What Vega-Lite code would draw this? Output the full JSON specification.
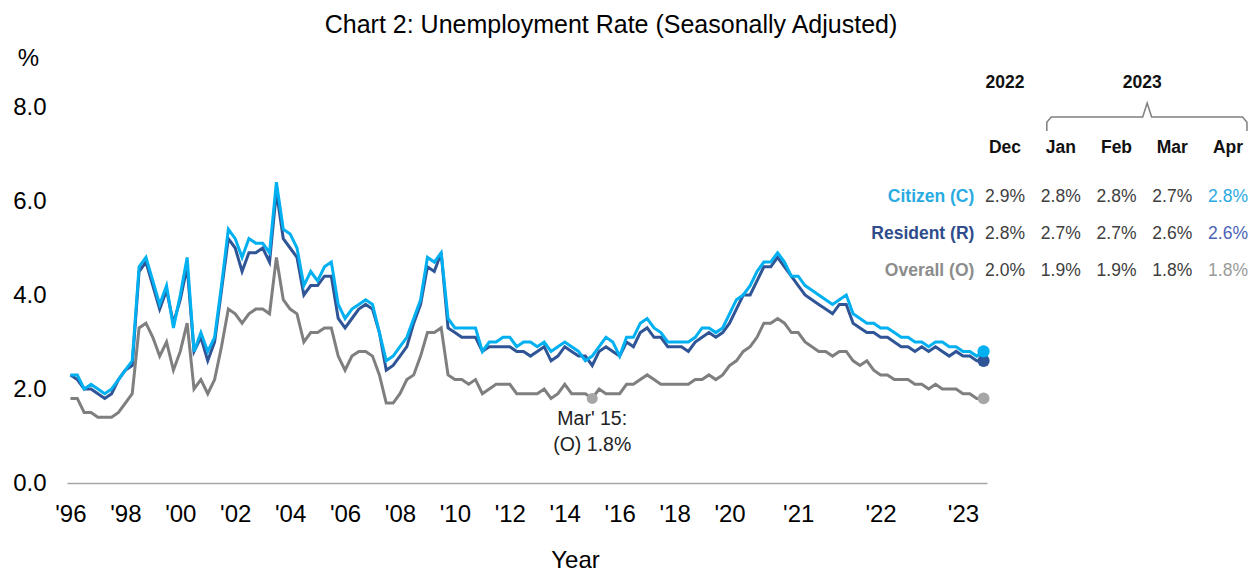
{
  "$schema": "https://vega.github.io/schema/vega-lite/v6.json",
  "width": 920,
  "height": 376,
  "autosize": {"type": "none"},
  "padding": {"left": 67, "top": 107, "right": 268, "bottom": 89},
  "background": "white",
  "config": {"view": {"stroke": null}, "font": "Liberation Sans", "axis": {"grid": false}},
  "title": {"text": "Chart 2: Unemployment Rate (Seasonally Adjusted)", "fontSize": 25, "fontWeight": "normal", "color": "#000000", "anchor": "middle", "dx": 84, "offset": 8},
  "datasets": {
    "ur": [
      {"p":"1996Q1","c":2.3,"r":2.3,"o":1.8},
      {"p":"1996Q2","c":2.3,"r":2.2,"o":1.8},
      {"p":"1996Q3","c":2.0,"r":2.0,"o":1.5},
      {"p":"1996Q4","c":2.1,"r":2.0,"o":1.5},
      {"p":"1997Q1","c":2.0,"r":1.9,"o":1.4},
      {"p":"1997Q2","c":1.9,"r":1.8,"o":1.4},
      {"p":"1997Q3","c":2.0,"r":1.9,"o":1.4},
      {"p":"1997Q4","c":2.2,"r":2.2,"o":1.5},
      {"p":"1998Q1","c":2.4,"r":2.4,"o":1.7},
      {"p":"1998Q2","c":2.6,"r":2.5,"o":1.9},
      {"p":"1998Q3","c":4.6,"r":4.5,"o":3.3},
      {"p":"1998Q4","c":4.8,"r":4.7,"o":3.4},
      {"p":"1999Q1","c":4.3,"r":4.2,"o":3.1},
      {"p":"1999Q2","c":3.8,"r":3.7,"o":2.7},
      {"p":"1999Q3","c":4.2,"r":4.1,"o":3.0},
      {"p":"1999Q4","c":3.3,"r":3.4,"o":2.4},
      {"p":"2000Q1","c":4.0,"r":3.9,"o":2.8},
      {"p":"2000Q2","c":4.8,"r":4.6,"o":3.4},
      {"p":"2000Q3","c":2.8,"r":2.8,"o":2.0},
      {"p":"2000Q4","c":3.2,"r":3.1,"o":2.2},
      {"p":"2001Q1","c":2.8,"r":2.6,"o":1.9},
      {"p":"2001Q2","c":3.1,"r":3.0,"o":2.2},
      {"p":"2001Q3","c":4.2,"r":4.1,"o":2.9},
      {"p":"2001Q4","c":5.4,"r":5.2,"o":3.7},
      {"p":"2002Q1","c":5.2,"r":5.0,"o":3.6},
      {"p":"2002Q2","c":4.8,"r":4.5,"o":3.4},
      {"p":"2002Q3","c":5.2,"r":4.9,"o":3.6},
      {"p":"2002Q4","c":5.1,"r":4.9,"o":3.7},
      {"p":"2003Q1","c":5.1,"r":5.0,"o":3.7},
      {"p":"2003Q2","c":4.9,"r":4.7,"o":3.6},
      {"p":"2003Q3","c":6.4,"r":6.2,"o":4.8},
      {"p":"2003Q4","c":5.4,"r":5.2,"o":3.9},
      {"p":"2004Q1","c":5.3,"r":5.0,"o":3.7},
      {"p":"2004Q2","c":5.0,"r":4.8,"o":3.6},
      {"p":"2004Q3","c":4.2,"r":4.0,"o":3.0},
      {"p":"2004Q4","c":4.5,"r":4.2,"o":3.2},
      {"p":"2005Q1","c":4.3,"r":4.2,"o":3.2},
      {"p":"2005Q2","c":4.6,"r":4.4,"o":3.3},
      {"p":"2005Q3","c":4.7,"r":4.4,"o":3.3},
      {"p":"2005Q4","c":3.8,"r":3.5,"o":2.7},
      {"p":"2006Q1","c":3.5,"r":3.3,"o":2.4},
      {"p":"2006Q2","c":3.7,"r":3.5,"o":2.7},
      {"p":"2006Q3","c":3.8,"r":3.7,"o":2.8},
      {"p":"2006Q4","c":3.9,"r":3.8,"o":2.8},
      {"p":"2007Q1","c":3.8,"r":3.7,"o":2.7},
      {"p":"2007Q2","c":3.2,"r":3.2,"o":2.3},
      {"p":"2007Q3","c":2.6,"r":2.4,"o":1.7},
      {"p":"2007Q4","c":2.7,"r":2.5,"o":1.7},
      {"p":"2008Q1","c":2.9,"r":2.7,"o":1.9},
      {"p":"2008Q2","c":3.1,"r":2.9,"o":2.2},
      {"p":"2008Q3","c":3.5,"r":3.4,"o":2.3},
      {"p":"2008Q4","c":3.9,"r":3.8,"o":2.7},
      {"p":"2009Q1","c":4.8,"r":4.6,"o":3.2},
      {"p":"2009Q2","c":4.7,"r":4.5,"o":3.2},
      {"p":"2009Q3","c":4.9,"r":4.9,"o":3.3},
      {"p":"2009Q4","c":3.5,"r":3.3,"o":2.3},
      {"p":"2010Q1","c":3.3,"r":3.2,"o":2.2},
      {"p":"2010Q2","c":3.3,"r":3.1,"o":2.2},
      {"p":"2010Q3","c":3.3,"r":3.1,"o":2.1},
      {"p":"2010Q4","c":3.3,"r":3.1,"o":2.2},
      {"p":"2011Q1","c":2.8,"r":2.8,"o":1.9},
      {"p":"2011Q2","c":3.0,"r":2.9,"o":2.0},
      {"p":"2011Q3","c":3.0,"r":2.9,"o":2.1},
      {"p":"2011Q4","c":3.1,"r":2.9,"o":2.1},
      {"p":"2012Q1","c":3.1,"r":2.9,"o":2.1},
      {"p":"2012Q2","c":2.9,"r":2.8,"o":1.9},
      {"p":"2012Q3","c":3.0,"r":2.8,"o":1.9},
      {"p":"2012Q4","c":3.0,"r":2.7,"o":1.9},
      {"p":"2013Q1","c":2.9,"r":2.8,"o":1.9},
      {"p":"2013Q2","c":3.0,"r":2.9,"o":2.0},
      {"p":"2013Q3","c":2.8,"r":2.6,"o":1.8},
      {"p":"2013Q4","c":2.9,"r":2.7,"o":1.9},
      {"p":"2014Q1","c":3.0,"r":2.9,"o":2.1},
      {"p":"2014Q2","c":2.9,"r":2.8,"o":1.9},
      {"p":"2014Q3","c":2.8,"r":2.7,"o":1.9},
      {"p":"2014Q4","c":2.6,"r":2.7,"o":1.9},
      {"p":"2015Q1","c":2.7,"r":2.5,"o":1.8},
      {"p":"2015Q2","c":2.9,"r":2.8,"o":2.0},
      {"p":"2015Q3","c":3.1,"r":2.9,"o":1.9},
      {"p":"2015Q4","c":3.0,"r":2.8,"o":1.9},
      {"p":"2016Q1","c":2.7,"r":2.7,"o":1.9},
      {"p":"2016Q2","c":3.1,"r":3.0,"o":2.1},
      {"p":"2016Q3","c":3.1,"r":2.9,"o":2.1},
      {"p":"2016Q4","c":3.4,"r":3.2,"o":2.2},
      {"p":"2017Q1","c":3.5,"r":3.3,"o":2.3},
      {"p":"2017Q2","c":3.3,"r":3.1,"o":2.2},
      {"p":"2017Q3","c":3.2,"r":3.1,"o":2.1},
      {"p":"2017Q4","c":3.0,"r":2.9,"o":2.1},
      {"p":"2018Q1","c":3.0,"r":2.9,"o":2.1},
      {"p":"2018Q2","c":3.0,"r":2.9,"o":2.1},
      {"p":"2018Q3","c":3.0,"r":2.8,"o":2.1},
      {"p":"2018Q4","c":3.1,"r":3.0,"o":2.2},
      {"p":"2019Q1","c":3.3,"r":3.1,"o":2.2},
      {"p":"2019Q2","c":3.3,"r":3.2,"o":2.3},
      {"p":"2019Q3","c":3.2,"r":3.1,"o":2.2},
      {"p":"2019Q4","c":3.3,"r":3.2,"o":2.3},
      {"p":"2020Q1","c":3.6,"r":3.4,"o":2.5},
      {"p":"2020-04","c":3.9,"r":3.7,"o":2.6},
      {"p":"2020-05","c":4.0,"r":4.0,"o":2.8},
      {"p":"2020-06","c":4.2,"r":4.0,"o":2.9},
      {"p":"2020-07","c":4.5,"r":4.3,"o":3.1},
      {"p":"2020-08","c":4.7,"r":4.6,"o":3.4},
      {"p":"2020-09","c":4.7,"r":4.6,"o":3.4},
      {"p":"2020-10","c":4.9,"r":4.8,"o":3.5},
      {"p":"2020-11","c":4.7,"r":4.6,"o":3.4},
      {"p":"2020-12","c":4.4,"r":4.4,"o":3.2},
      {"p":"2021-01","c":4.4,"r":4.2,"o":3.2},
      {"p":"2021-02","c":4.2,"r":4.0,"o":3.0},
      {"p":"2021-03","c":4.1,"r":3.9,"o":2.9},
      {"p":"2021-04","c":4.0,"r":3.8,"o":2.8},
      {"p":"2021-05","c":3.9,"r":3.7,"o":2.8},
      {"p":"2021-06","c":3.8,"r":3.6,"o":2.7},
      {"p":"2021-07","c":3.9,"r":3.8,"o":2.8},
      {"p":"2021-08","c":4.0,"r":3.8,"o":2.8},
      {"p":"2021-09","c":3.6,"r":3.4,"o":2.6},
      {"p":"2021-10","c":3.5,"r":3.3,"o":2.5},
      {"p":"2021-11","c":3.4,"r":3.2,"o":2.6},
      {"p":"2021-12","c":3.4,"r":3.2,"o":2.4},
      {"p":"2022-01","c":3.3,"r":3.1,"o":2.3},
      {"p":"2022-02","c":3.3,"r":3.1,"o":2.3},
      {"p":"2022-03","c":3.2,"r":3.0,"o":2.2},
      {"p":"2022-04","c":3.1,"r":2.9,"o":2.2},
      {"p":"2022-05","c":3.1,"r":2.9,"o":2.2},
      {"p":"2022-06","c":3.0,"r":2.8,"o":2.1},
      {"p":"2022-07","c":3.0,"r":2.9,"o":2.1},
      {"p":"2022-08","c":2.9,"r":2.8,"o":2.0},
      {"p":"2022-09","c":3.0,"r":2.9,"o":2.1},
      {"p":"2022-10","c":3.0,"r":2.8,"o":2.0},
      {"p":"2022-11","c":2.9,"r":2.7,"o":2.0},
      {"p":"2022-12","c":2.9,"r":2.8,"o":2.0},
      {"p":"2023-01","c":2.8,"r":2.7,"o":1.9},
      {"p":"2023-02","c":2.8,"r":2.7,"o":1.9},
      {"p":"2023-03","c":2.7,"r":2.6,"o":1.8},
      {"p":"2023-04","c":2.8,"r":2.6,"o":1.8}
    ],
    "table": [
      {"kind":"header","t":"2022","tx":1,"ty":5.08,"s":"hdr"},
      {"kind":"header","t":"2023","tx":3.46,"ty":5.08,"s":"hdr"},
      {"kind":"header","t":"Dec","tx":1,"ty":3.32,"s":"hdr"},
      {"kind":"header","t":"Jan","tx":2,"ty":3.32,"s":"hdr"},
      {"kind":"header","t":"Feb","tx":3,"ty":3.32,"s":"hdr"},
      {"kind":"header","t":"Mar","tx":4,"ty":3.32,"s":"hdr"},
      {"kind":"header","t":"Apr","tx":5,"ty":3.32,"s":"hdr"},
      {"kind":"label","t":"Citizen (C)","tx":0.45,"ty":2,"s":"C"},
      {"kind":"label","t":"Resident (R)","tx":0.45,"ty":1,"s":"R"},
      {"kind":"label","t":"Overall (O)","tx":0.45,"ty":0,"s":"O"},
      {"kind":"value","t":"2.9%","tx":1,"ty":2,"s":"val"},
      {"kind":"value","t":"2.8%","tx":2,"ty":2,"s":"val"},
      {"kind":"value","t":"2.8%","tx":3,"ty":2,"s":"val"},
      {"kind":"value","t":"2.7%","tx":4,"ty":2,"s":"val"},
      {"kind":"value","t":"2.8%","tx":5,"ty":2,"s":"Ca"},
      {"kind":"value","t":"2.8%","tx":1,"ty":1,"s":"val"},
      {"kind":"value","t":"2.7%","tx":2,"ty":1,"s":"val"},
      {"kind":"value","t":"2.7%","tx":3,"ty":1,"s":"val"},
      {"kind":"value","t":"2.6%","tx":4,"ty":1,"s":"val"},
      {"kind":"value","t":"2.6%","tx":5,"ty":1,"s":"Ra"},
      {"kind":"value","t":"2.0%","tx":1,"ty":0,"s":"val"},
      {"kind":"value","t":"1.9%","tx":2,"ty":0,"s":"val"},
      {"kind":"value","t":"1.9%","tx":3,"ty":0,"s":"val"},
      {"kind":"value","t":"1.8%","tx":4,"ty":0,"s":"val"},
      {"kind":"value","t":"1.8%","tx":5,"ty":0,"s":"Oa"}
    ],
    "brace": [
      {"n":1,"tx":1.75,"ty":3.78},
      {"n":2,"tx":1.75,"ty":4.02},
      {"n":3,"tx":1.83,"ty":4.16},
      {"n":4,"tx":3.47,"ty":4.16},
      {"n":5,"tx":3.55,"ty":4.54},
      {"n":6,"tx":3.63,"ty":4.16},
      {"n":7,"tx":5.26,"ty":4.16},
      {"n":8,"tx":5.34,"ty":4.02},
      {"n":9,"tx":5.34,"ty":3.78}
    ]
  },
  "layer": [
    {
      "data": {"name": "ur"},
      "encoding": {
        "x": {
          "field": "p", "type": "ordinal", "sort": null,
          "scale": {"type": "point", "padding": 0.5},
          "axis": {
            "values": ["1996Q1","1998Q1","2000Q1","2002Q1","2004Q1","2006Q1","2008Q1","2010Q1","2012Q1","2014Q1","2016Q1","2018Q1","2020Q1","2021-01","2022-01","2023-01"],
            "labelExpr": "\"'\" + substring(datum.value, 2, 4)",
            "labelAngle": 0, "labelFontSize": 24, "labelColor": "#000000", "labelPadding": 19,
            "ticks": false, "domainColor": "#A6A6A6", "domainWidth": 1.5,
            "title": "Year", "titleFontSize": 24, "titleFontWeight": "normal", "titleColor": "#000000",
            "titleX": 508, "titleY": 77, "titleAlign": "center", "titleBaseline": "middle"
          }
        }
      },
      "layer": [
        {
          "mark": {"type": "line", "color": "#7F7F7F", "strokeWidth": 3},
          "encoding": {
            "y": {
              "field": "o", "type": "quantitative", "title": "%",
              "scale": {"domain": [0, 8], "nice": false},
              "axis": {
                "values": [0, 2, 4, 6, 8], "format": ".1f", "labelFontSize": 24, "labelColor": "#000000",
                "labelPadding": 21, "ticks": false, "domain": false, "grid": false,
                "title": "%", "titleAngle": 0, "titleFontSize": 24, "titleFontWeight": "normal", "titleColor": "#000000",
                "titleX": -39, "titleY": -49, "titleAlign": "center", "titleBaseline": "middle"
              }
            }
          }
        },
        {
          "mark": {"type": "line", "color": "#2F5597", "strokeWidth": 3},
          "encoding": {"y": {"field": "r", "type": "quantitative", "title": "%"}}
        },
        {
          "mark": {"type": "line", "color": "#00B0F0", "strokeWidth": 3},
          "encoding": {"y": {"field": "c", "type": "quantitative", "title": "%"}}
        },
        {
          "transform": [{"filter": "datum.p == '2023-04'"}],
          "mark": {"type": "point", "filled": true, "opacity": 1, "size": 140, "color": "#A6A6A6"},
          "encoding": {"y": {"field": "o", "type": "quantitative", "title": "%"}}
        },
        {
          "transform": [{"filter": "datum.p == '2023-04'"}],
          "mark": {"type": "point", "filled": true, "opacity": 1, "size": 150, "color": "#2F5597"},
          "encoding": {"y": {"field": "r", "type": "quantitative", "title": "%"}}
        },
        {
          "transform": [{"filter": "datum.p == '2023-04'"}],
          "mark": {"type": "point", "filled": true, "opacity": 1, "size": 150, "color": "#00B0F0"},
          "encoding": {"y": {"field": "c", "type": "quantitative", "title": "%"}}
        },
        {
          "transform": [{"filter": "datum.p == '2015Q1'"}],
          "mark": {"type": "point", "filled": true, "opacity": 1, "size": 120, "color": "#A6A6A6"},
          "encoding": {"y": {"field": "o", "type": "quantitative", "title": "%"}}
        },
        {
          "transform": [{"filter": "datum.p == '2015Q1'"}],
          "mark": {"type": "text", "fontSize": 19.5, "color": "#222222", "align": "center", "baseline": "top", "dy": 12, "lineHeight": 26},
          "encoding": {
            "y": {"field": "o", "type": "quantitative", "title": "%"},
            "text": {"value": ["Mar' 15:", "(O) 1.8%"]}
          }
        }
      ]
    },
    {
      "encoding": {
        "x": {"field": "tx", "type": "quantitative", "scale": {"domain": [-15.825, 0.677], "nice": false, "zero": false}, "axis": null},
        "y": {"field": "ty", "type": "quantitative", "scale": {"domain": [-5.73, 4.432], "nice": false, "zero": false}, "axis": null}
      },
      "layer": [
        {
          "data": {"name": "table"},
          "transform": [{"filter": "datum.kind == 'header'"}],
          "mark": {"type": "text", "fontSize": 17.5, "fontWeight": "bold", "align": "center", "baseline": "middle"},
          "encoding": {
            "text": {"field": "t"},
            "color": {"field": "s", "type": "nominal", "legend": null,
              "scale": {"domain": ["hdr","val","C","R","O","Ca","Ra","Oa"], "range": ["#111111","#404040","#29ABE2","#2F4D8C","#8C8C8C","#29ABE2","#4A63B5","#9A9A9A"]}}
          }
        },
        {
          "data": {"name": "table"},
          "transform": [{"filter": "datum.kind == 'label'"}],
          "mark": {"type": "text", "fontSize": 17.5, "fontWeight": "bold", "align": "right", "baseline": "middle"},
          "encoding": {
            "text": {"field": "t"},
            "color": {"field": "s", "type": "nominal", "legend": null}
          }
        },
        {
          "data": {"name": "table"},
          "transform": [{"filter": "datum.kind == 'value'"}],
          "mark": {"type": "text", "fontSize": 17.5, "fontWeight": "normal", "align": "center", "baseline": "middle"},
          "encoding": {
            "text": {"field": "t"},
            "color": {"field": "s", "type": "nominal", "legend": null}
          }
        },
        {
          "data": {"name": "brace"},
          "mark": {"type": "line", "color": "#7F7F7F", "strokeWidth": 1.5},
          "encoding": {"order": {"field": "n", "type": "quantitative"}}
        }
      ]
    }
  ],
  "resolve": {"scale": {"x": "independent", "y": "independent", "color": "independent"}, "axis": {"x": "independent", "y": "independent"}}
}
